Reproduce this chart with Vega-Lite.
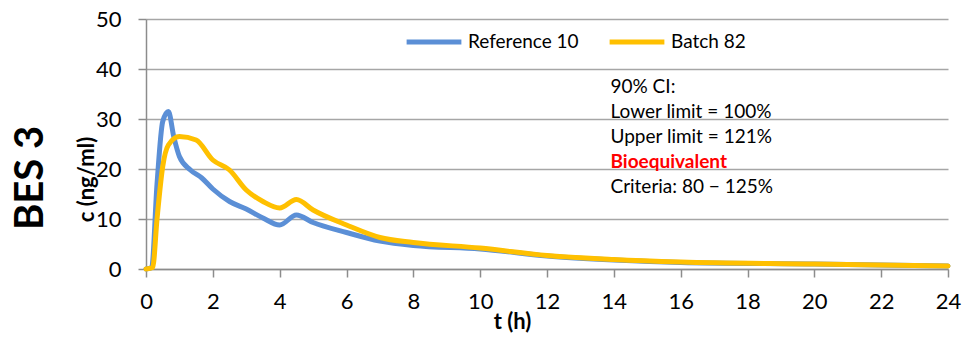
{
  "$schema": "https://vega.github.io/schema/vega-lite/v6.json",
  "width": 802,
  "height": 250,
  "autosize": {"type": "none"},
  "padding": {"left": 146, "top": 19, "right": 28, "bottom": 69},
  "background": "white",
  "title": {"text": "BES 3", "orient": "left", "fontSize": 40, "fontWeight": "bold", "font": "Lato", "color": "black", "anchor": "middle", "offset": 24, "dx": -34},
  "config": {"view": {"stroke": null}},
  "datasets": {
    "curves": [
      {"t": 0, "c": 0, "series": "Reference 10"},
      {"t": 0.17, "c": 0.3, "series": "Reference 10"},
      {"t": 0.33, "c": 17, "series": "Reference 10"},
      {"t": 0.5, "c": 29.5, "series": "Reference 10"},
      {"t": 0.67, "c": 31.5, "series": "Reference 10"},
      {"t": 0.83, "c": 26.5, "series": "Reference 10"},
      {"t": 1.0, "c": 22.5, "series": "Reference 10"},
      {"t": 1.33, "c": 19.8, "series": "Reference 10"},
      {"t": 1.67, "c": 18.2, "series": "Reference 10"},
      {"t": 2.0, "c": 16, "series": "Reference 10"},
      {"t": 2.5, "c": 13.5, "series": "Reference 10"},
      {"t": 3.0, "c": 12, "series": "Reference 10"},
      {"t": 3.5, "c": 10.2, "series": "Reference 10"},
      {"t": 4.0, "c": 8.8, "series": "Reference 10"},
      {"t": 4.5, "c": 10.8, "series": "Reference 10"},
      {"t": 5.0, "c": 9.3, "series": "Reference 10"},
      {"t": 6.0, "c": 7.3, "series": "Reference 10"},
      {"t": 7.0, "c": 5.6, "series": "Reference 10"},
      {"t": 8.0, "c": 4.7, "series": "Reference 10"},
      {"t": 10.0, "c": 4.0, "series": "Reference 10"},
      {"t": 12.0, "c": 2.6, "series": "Reference 10"},
      {"t": 14.0, "c": 1.8, "series": "Reference 10"},
      {"t": 16.0, "c": 1.3, "series": "Reference 10"},
      {"t": 20.0, "c": 1.0, "series": "Reference 10"},
      {"t": 24.0, "c": 0.6, "series": "Reference 10"},
      {"t": 0, "c": 0, "series": "Batch 82"},
      {"t": 0.2, "c": 0.3, "series": "Batch 82"},
      {"t": 0.33, "c": 10, "series": "Batch 82"},
      {"t": 0.5, "c": 20.5, "series": "Batch 82"},
      {"t": 0.67, "c": 24.8, "series": "Batch 82"},
      {"t": 1.0, "c": 26.5, "series": "Batch 82"},
      {"t": 1.5, "c": 25.8, "series": "Batch 82"},
      {"t": 2.0, "c": 21.8, "series": "Batch 82"},
      {"t": 2.5, "c": 19.8, "series": "Batch 82"},
      {"t": 3.0, "c": 15.8, "series": "Batch 82"},
      {"t": 3.5, "c": 13.5, "series": "Batch 82"},
      {"t": 4.0, "c": 12.2, "series": "Batch 82"},
      {"t": 4.5, "c": 13.9, "series": "Batch 82"},
      {"t": 5.0, "c": 11.8, "series": "Batch 82"},
      {"t": 6.0, "c": 8.8, "series": "Batch 82"},
      {"t": 7.0, "c": 6.3, "series": "Batch 82"},
      {"t": 8.0, "c": 5.3, "series": "Batch 82"},
      {"t": 10.0, "c": 4.2, "series": "Batch 82"},
      {"t": 12.0, "c": 2.7, "series": "Batch 82"},
      {"t": 14.0, "c": 1.9, "series": "Batch 82"},
      {"t": 16.0, "c": 1.4, "series": "Batch 82"},
      {"t": 20.0, "c": 1.0, "series": "Batch 82"},
      {"t": 24.0, "c": 0.6, "series": "Batch 82"}
    ],
    "notes": [
      {"t": 13.9, "c": 36.4, "label": "90% CI:"},
      {"t": 13.9, "c": 31.4, "label": "Lower limit = 100%"},
      {"t": 13.9, "c": 26.4, "label": "Upper limit = 121%"},
      {"t": 13.9, "c": 16.4, "label": "Criteria: 80  − 125%"}
    ],
    "verdict": [
      {"t": 13.9, "c": 21.4, "label": "Bioequivalent"}
    ]
  },
  "layer": [
    {
      "data": {"name": "curves"},
      "mark": {"type": "line", "interpolate": "monotone", "strokeWidth": 5, "strokeCap": "round", "strokeJoin": "round"},
      "encoding": {
        "x": {"field": "t", "type": "quantitative",
          "scale": {"domain": [0, 24], "nice": false},
          "axis": {"values": [0,2,4,6,8,10,12,14,16,18,20,22,24], "title": "t (h)", "titleFontWeight": "bold", "titleFontSize": 22, "titleFont": "Lato", "titleColor": "black", "titleX": 366, "titleY": 42, "titleAnchor": "middle",
            "labelFont": "Lato", "labelFontSize": 22, "labelColor": "black", "labelPadding": 14, "labelFlush": false,
            "grid": false, "domainColor": "#8c8c8c", "domainWidth": 1.5, "tickColor": "#8c8c8c", "tickWidth": 1.5, "tickSize": 8}
        },
        "y": {"field": "c", "type": "quantitative",
          "scale": {"domain": [0, 50], "nice": false},
          "axis": {"values": [0,10,20,30,40,50], "title": "c (ng/ml)", "titleFontWeight": "bold", "titleFontSize": 22, "titleFont": "Lato", "titleColor": "black", "titleX": -48, "titleY": 160, "titleAnchor": "middle",
            "labelFont": "Lato", "labelFontSize": 22, "labelColor": "black", "labelPadding": 17, "labelFlush": false,
            "grid": true, "gridColor": "#a6a6a6", "gridWidth": 1.5, "domainColor": "#8c8c8c", "domainWidth": 1.5, "tickColor": "#8c8c8c", "tickWidth": 1.5, "tickSize": 8}
        },
        "color": {"field": "series", "type": "nominal",
          "scale": {"domain": ["Reference 10", "Batch 82"], "range": ["#5B8FD6", "#FFC000"]},
          "legend": {"title": null, "orient": "none", "direction": "horizontal", "legendX": 258, "legendY": -7,
            "symbolType": "stroke", "symbolSize": 3000, "symbolStrokeWidth": 5, "labelFont": "Lato", "labelFontSize": 19, "labelColor": "black", "columnPadding": 20, "labelOffset": 4}
        }
      }
    },
    {
      "data": {"name": "notes"},
      "mark": {"type": "text", "align": "left", "baseline": "middle", "font": "Lato", "fontSize": 19, "color": "black"},
      "encoding": {
        "x": {"field": "t", "type": "quantitative"},
        "y": {"field": "c", "type": "quantitative"},
        "text": {"field": "label"}
      }
    },
    {
      "data": {"name": "verdict"},
      "mark": {"type": "text", "align": "left", "baseline": "middle", "font": "Lato", "fontSize": 19, "fontWeight": "bold", "color": "#ff0000"},
      "encoding": {
        "x": {"field": "t", "type": "quantitative"},
        "y": {"field": "c", "type": "quantitative"},
        "text": {"field": "label"}
      }
    }
  ]
}
